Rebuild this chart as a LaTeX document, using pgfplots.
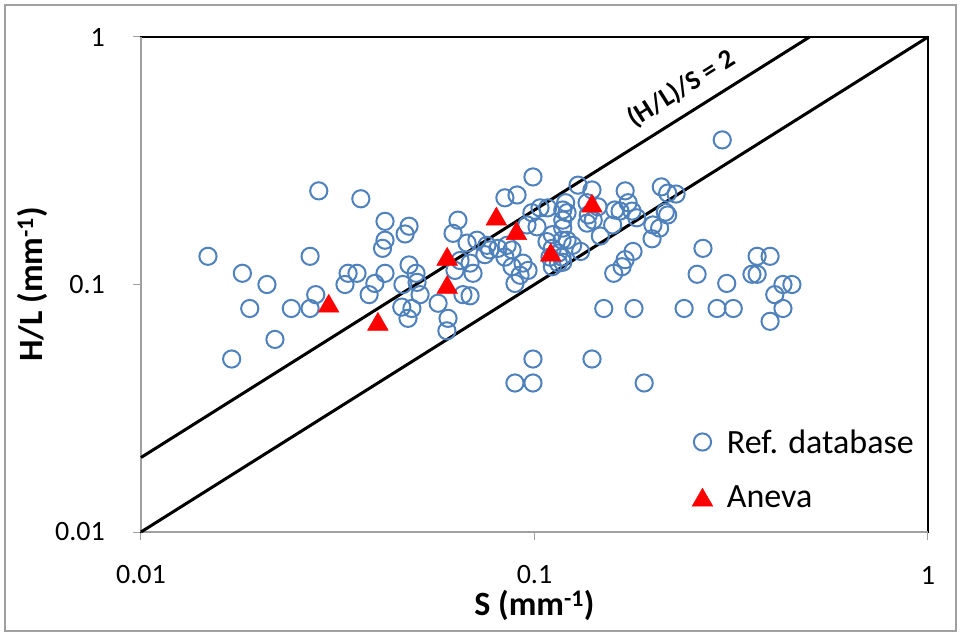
\documentclass[border=0pt]{standalone}
\usepackage{pgfplots}
\pgfplotsset{compat=1.18}
\usepackage{fontspec}
\setmainfont{Carlito}
\definecolor{refblue}{RGB}{79,129,189}
\definecolor{axgray}{RGB}{160,160,160}
\begin{document}
\begin{tikzpicture}
\begin{axis}[
  scale only axis,
  width=787bp, height=495bp,
  xmode=log, ymode=log,
  xmin=0.01, xmax=1, ymin=0.01, ymax=1,
  xtick={0.01,0.1,1}, xticklabels={0.01,0.1,1},
  ytick={0.01,0.1,1}, yticklabels={0.01,0.1,1},
  xminorticks=false, yminorticks=false,
  xtick pos=bottom, ytick pos=left,
  tick align=outside,
  major tick length=8bp,
  every tick/.style={axgray, line width=1bp},
  axis line style={black, line width=1.2bp},
  xticklabel style={font=\fontsize{28bp}{32bp}\selectfont, anchor=center, yshift=-35bp, inner sep=0pt},
  yticklabel style={font=\fontsize{28bp}{32bp}\selectfont, anchor=east, xshift=-28bp, inner sep=0pt},
  xlabel={\textbf{S (mm\textsuperscript{-1})}},
  ylabel={\textbf{H/L (mm\textsuperscript{-1})}},
  every axis x label/.style={at={(rel axis cs:0.5,0)}, anchor=center, yshift=-73bp, font=\fontsize{34bp}{38bp}\selectfont},
  every axis y label/.style={at={(rel axis cs:0,0.5)}, anchor=center, xshift=-109bp, rotate=90, font=\fontsize{34bp}{38bp}\selectfont},
  legend style={draw=none, fill=none, font=\fontsize{34bp}{38bp}\selectfont,
    at={(rel axis cs:0.70,0.127)}, anchor=west, row sep=27bp, column sep=12bp, inner sep=0pt},
  legend cell align=left,
  clip=false,
]
\coordinate (O) at (rel axis cs:0,0);
\draw[axgray, line width=1.2bp] (rel axis cs:0,0) -- (rel axis cs:0,1);
\draw[axgray, line width=1.2bp] (rel axis cs:0,0) -- (rel axis cs:1,0);
\addplot[black, line width=3bp, forget plot] coordinates {(0.01,0.01) (1,1)};
\addplot[black, line width=3bp, forget plot] coordinates {(0.01,0.02) (0.5,1)};
\node[rotate=32.2, yshift=9bp, anchor=south, inner sep=3bp, font=\fontsize{27bp}{29bp}\selectfont\bfseries] at (axis cs:0.255,0.51) {(H/L)/S = 2};
\addplot[only marks, mark=o, mark size=8.6bp, mark options={draw=refblue, line width=2bp, fill=none}] coordinates {
(0.0148,0.130) (0.0170,0.050) (0.0181,0.111) (0.0189,0.080) (0.0209,0.100)
(0.0219,0.060) (0.0241,0.080) (0.0269,0.130) (0.0269,0.080) (0.0278,0.091)
(0.0283,0.239) (0.0330,0.100) (0.0336,0.111) (0.0354,0.111) (0.0362,0.222)
(0.0393,0.101) (0.0380,0.091) (0.0417,0.111) (0.0417,0.180) (0.0480,0.172)
(0.0469,0.160) (0.0417,0.151) (0.0411,0.140) (0.0480,0.120) (0.0500,0.111)
(0.0463,0.100) (0.0503,0.102) (0.0512,0.091) (0.0460,0.081) (0.0488,0.080)
(0.0477,0.073) (0.0569,0.084) (0.0603,0.073) (0.0599,0.065) (0.0639,0.182)
(0.0621,0.161) (0.0658,0.091) (0.0686,0.090) (0.0628,0.114) (0.0647,0.125)
(0.0686,0.122) (0.0698,0.111) (0.0674,0.147) (0.0714,0.151) (0.0757,0.144)
(0.0770,0.138) (0.0748,0.132) (0.0808,0.140) (0.0852,0.144) (0.0877,0.138)
(0.0841,0.129) (0.0877,0.118) (0.0935,0.122) (0.0963,0.114) (0.0919,0.109)
(0.0892,0.101) (0.0841,0.224) (0.0903,0.230) (0.0991,0.272) (0.1033,0.204)
(0.0985,0.195) (0.0957,0.174) (0.1015,0.171) (0.118,0.200) (0.118,0.182)
(0.118,0.169) (0.1175,0.151) (0.1076,0.149) (0.111,0.140) (0.1095,0.129)
(0.115,0.122) (0.1175,0.129) (0.0991,0.050) (0.0892,0.040) (0.0991,0.040)
(0.129,0.252) (0.140,0.241) (0.170,0.239) (0.210,0.248) (0.218,0.234)
(0.229,0.232) (0.120,0.214) (0.121,0.195) (0.108,0.204) (0.136,0.214)
(0.145,0.206) (0.137,0.191) (0.136,0.177) (0.141,0.182) (0.160,0.200)
(0.165,0.198) (0.173,0.214) (0.177,0.198) (0.182,0.186) (0.200,0.174)
(0.208,0.169) (0.199,0.153) (0.215,0.196) (0.147,0.157) (0.158,0.174)
(0.111,0.159) (0.121,0.151) (0.125,0.144) (0.131,0.136) (0.115,0.134)
(0.118,0.123) (0.111,0.118) (0.178,0.136) (0.170,0.126) (0.167,0.118)
(0.159,0.111) (0.300,0.384) (0.268,0.140) (0.259,0.110) (0.308,0.101)
(0.368,0.130) (0.397,0.130) (0.357,0.110) (0.368,0.110) (0.428,0.100)
(0.451,0.100) (0.408,0.091) (0.428,0.080) (0.397,0.071) (0.240,0.080)
(0.291,0.080) (0.320,0.080) (0.150,0.080) (0.179,0.080) (0.140,0.050)
(0.190,0.040) (0.218,0.191)
};
\addlegendentry{Ref. database}
\addplot[only marks, mark=triangle*, mark size=12bp, mark options={draw=red, fill=red, yshift=-3bp}] coordinates {
(0.03,0.084) (0.04,0.071) (0.06,0.130) (0.06,0.100) (0.08,0.189) (0.09,0.165) (0.11,0.135) (0.14,0.213)
};
\addlegendentry{Aneva}
\end{axis}
\draw[axgray, line width=1.5bp] ([shift={(-136bp,-99bp)}]O) rectangle ([shift={(815bp,527bp)}]O);
\path ([shift={(-141bp,-104bp)}]O) rectangle ([shift={(820bp,532bp)}]O);
\end{tikzpicture}
\end{document}
